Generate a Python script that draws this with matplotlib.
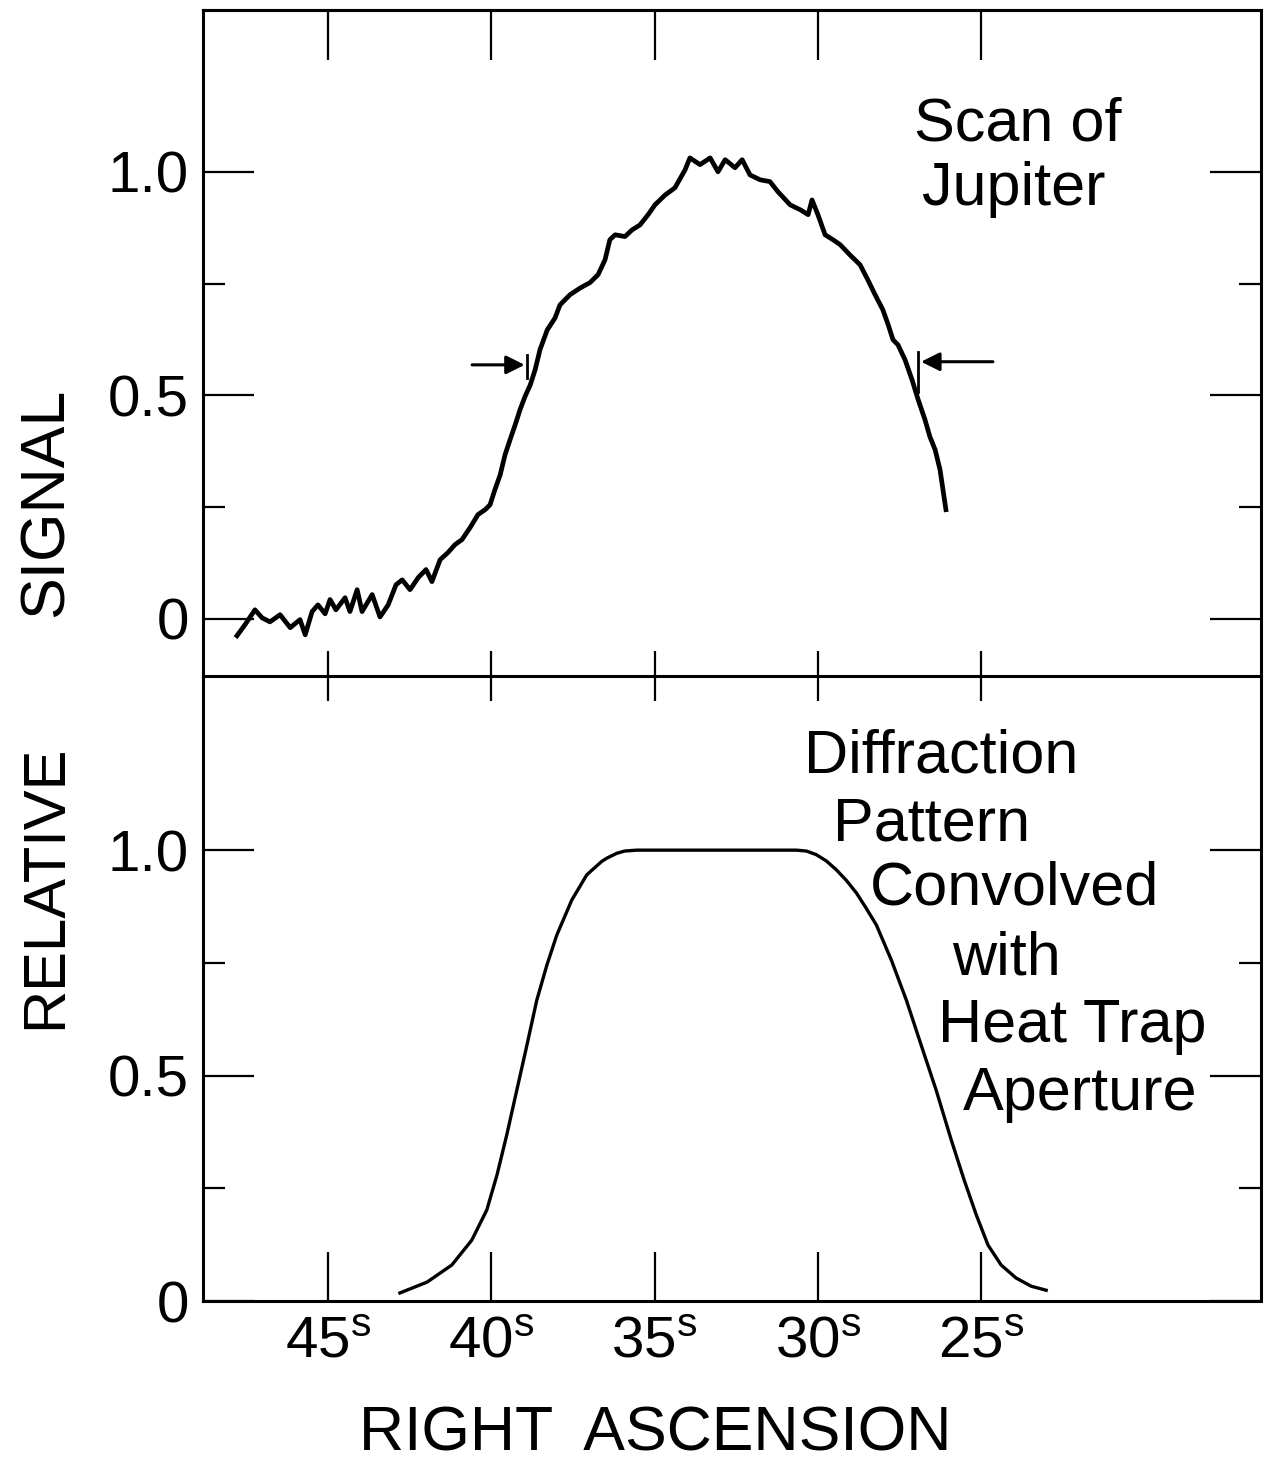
import matplotlib
matplotlib.use("Agg")
import matplotlib.pyplot as plt
from matplotlib.ticker import FixedLocator

plt.rcParams['font.family'] = ['Liberation Sans', 'DejaVu Sans']
plt.rcParams['mathtext.fontset'] = 'custom'
plt.rcParams['mathtext.rm'] = 'Liberation Sans'

# ---------------- data ----------------
# Top panel: scan of Jupiter (right ascension in seconds, relative signal)
scan_ra = [47.79, 47.54, 47.24, 47.02, 46.78, 46.47, 46.16, 45.86, 45.70, 45.49,
           45.31, 45.09, 44.94, 44.76, 44.48, 44.33, 44.11, 43.96, 43.65, 43.41,
           43.16, 42.92, 42.73, 42.49, 42.24, 42.00, 41.82, 41.57, 41.33, 41.11,
           40.90, 40.65, 40.41, 40.19, 40.04, 39.89, 39.73, 39.58, 39.43, 39.27,
           39.12, 38.97, 38.81, 38.66, 38.51, 38.29, 38.05, 37.90, 37.59, 37.28,
           36.98, 36.73, 36.52, 36.37, 36.21, 35.91, 35.69, 35.45, 35.20, 34.99,
           34.68, 34.38, 34.07, 33.92, 33.61, 33.30, 33.06, 32.84, 32.54, 32.32,
           32.08, 31.77, 31.47, 31.22, 30.85, 30.54, 30.30, 30.18, 30.00, 29.78,
           29.54, 29.32, 29.02, 28.71, 28.47, 28.25, 28.01, 27.85, 27.70, 27.55,
           27.33, 27.12, 26.93, 26.72, 26.57, 26.41, 26.26, 26.08]
scan_sig = [-0.038, -0.013, 0.020, 0.002, -0.007, 0.009, -0.020, -0.002, -0.036, 0.016,
            0.031, 0.011, 0.043, 0.020, 0.047, 0.016, 0.065, 0.016, 0.054, 0.004,
            0.031, 0.076, 0.087, 0.065, 0.092, 0.110, 0.083, 0.132, 0.148, 0.166,
            0.177, 0.204, 0.233, 0.244, 0.255, 0.289, 0.322, 0.367, 0.400, 0.434,
            0.468, 0.497, 0.523, 0.557, 0.602, 0.646, 0.673, 0.702, 0.725, 0.740,
            0.752, 0.770, 0.803, 0.848, 0.859, 0.855, 0.870, 0.881, 0.904, 0.926,
            0.948, 0.964, 1.004, 1.031, 1.016, 1.031, 1.000, 1.027, 1.009, 1.027,
            0.993, 0.982, 0.978, 0.955, 0.926, 0.915, 0.904, 0.937, 0.904, 0.859,
            0.848, 0.837, 0.814, 0.792, 0.758, 0.725, 0.691, 0.658, 0.624, 0.613,
            0.579, 0.535, 0.490, 0.445, 0.407, 0.378, 0.333, 0.244]

# Half-power markers (arrows) on the scan
marker_left_ra = [40.59, 38.98]    # tail, head
marker_left_bar = 38.91
marker_left_sig = [0.539, 0.568, 0.590]
marker_right_ra = [24.64, 26.84]   # tail, head
marker_right_bar = 26.93
marker_right_sig = [0.508, 0.575, 0.597]

# Bottom panel: diffraction pattern convolved with heat-trap aperture
model_ra = [42.80, 41.97, 41.21, 40.60, 40.14, 39.83, 39.53, 39.22, 38.91, 38.61,
            38.30, 38.00, 37.54, 37.08, 36.93, 36.62, 36.47, 36.16, 35.92, 35.55,
            33.72, 31.88, 30.66, 30.35, 30.05, 29.74, 29.43, 29.13, 28.82, 28.52,
            28.21, 27.75, 27.29, 26.84, 26.38, 25.92, 25.52, 25.15, 24.79, 24.39,
            23.93, 23.47, 23.01]
model_sig = [0.018, 0.042, 0.080, 0.135, 0.202, 0.279, 0.368, 0.468, 0.568, 0.667,
             0.745, 0.811, 0.889, 0.945, 0.955, 0.975, 0.982, 0.993, 0.998, 1.000,
             1.000, 1.000, 1.000, 0.998, 0.990, 0.976, 0.956, 0.933, 0.905, 0.871,
             0.834, 0.756, 0.667, 0.568, 0.468, 0.358, 0.268, 0.191, 0.124, 0.080,
             0.051, 0.033, 0.024]

x_ticks = [45, 40, 35, 30, 25]
x_ticklabels = [r'$\mathregular{45^{s}}$', r'$\mathregular{40^{s}}$', r'$\mathregular{35^{s}}$',
                r'$\mathregular{30^{s}}$', r'$\mathregular{25^{s}}$']
y_major = [0, 0.5, 1.0]
y_major_labels = ['0', '0.5', '1.0']
y_minor = [0.25, 0.75]

top_text = ['Scan of', 'Jupiter']
bottom_text = ['Diffraction', 'Pattern', 'Convolved', 'with', 'Heat Trap', 'Aperture']

# ---------------- figure ----------------
fig = plt.figure(figsize=(12.8, 14.65), dpi=100)
L, W = 0.1586, 0.8266
ax1 = fig.add_axes([L, 0.5386, W, 0.4546])
ax2 = fig.add_axes([L, 0.1119, W, 0.4266])

xlim = (48.83, 16.43)
TW = 1.6
for ax in (ax1, ax2):
    ax.patch.set_visible(False)
    ax.set_xlim(*xlim)
    for s in ax.spines.values():
        s.set_linewidth(2.2)
    ax.yaxis.set_major_locator(FixedLocator(y_major))
    ax.yaxis.set_minor_locator(FixedLocator(y_minor))
    ax.set_yticklabels(y_major_labels)
    ax.tick_params(axis='y', which='major', direction='in', length=37, width=TW,
                   left=True, right=True, labelsize=42, pad=10)
    ax.tick_params(axis='y', which='minor', direction='in', length=16, width=TW,
                   left=True, right=True)
    ax.xaxis.set_major_locator(FixedLocator(x_ticks))

ax1.set_ylim(-0.128, 1.362)
ax2.set_ylim(0, 1.386)

# top panel: short inward ticks at the shared boundary
ax1.tick_params(axis='x', which='major', top=False, bottom=True, labelbottom=False,
                direction='in', length=18, width=TW)
# long inward ticks along the top edge
sec_top = ax1.secondary_xaxis('top')
sec_top.set_xticks(x_ticks)
sec_top.tick_params(axis='x', direction='in', length=36, width=TW, labeltop=False)
sec_top.spines['top'].set_linewidth(2.2)

# bottom panel: short inward ticks below the shared boundary, long ones at bottom
ax2.spines['top'].set_visible(False)
ax2.set_xticks(x_ticks)
ax2.set_xticklabels(x_ticklabels)
ax2.tick_params(axis='x', which='major', direction='in', length=35, width=TW,
                top=False, bottom=True, labelsize=42, pad=10)
sec_mid = ax2.secondary_xaxis('top')
sec_mid.set_xticks(x_ticks)
sec_mid.tick_params(axis='x', direction='in', length=18, width=TW, labeltop=False)
sec_mid.spines['top'].set_visible(False)

# curves
ax1.plot(scan_ra, scan_sig, color='black', lw=3.4, solid_joinstyle='round')
ax2.plot(model_ra, model_sig, color='black', lw=2.4, solid_joinstyle='round')

# half-power markers
arrow_kw = dict(arrowstyle='-|>', mutation_scale=28, lw=2.2, color='black',
                shrinkA=0, shrinkB=0)
ax1.annotate('', xy=(marker_left_ra[1], marker_left_sig[1]),
             xytext=(marker_left_ra[0], marker_left_sig[1]), arrowprops=arrow_kw)
ax1.plot([marker_left_bar, marker_left_bar], [marker_left_sig[0], marker_left_sig[2]],
         color='black', lw=2.0)
ax1.annotate('', xy=(marker_right_ra[1], marker_right_sig[1]),
             xytext=(marker_right_ra[0], marker_right_sig[1]), arrowprops=arrow_kw)
ax1.plot([marker_right_bar, marker_right_bar], [marker_right_sig[0], marker_right_sig[2]],
         color='black', lw=2.0)

# annotation texts
ann_font = dict(fontsize=44, color='black')
fig.text(0.795, 0.9044, top_text[0], ha='center', va='baseline', **ann_font)
fig.text(0.792, 0.8601, top_text[1], ha='center', va='baseline', **ann_font)
bx = [0.735, 0.728, 0.793, 0.786, 0.838, 0.844]
by = [0.4730, 0.4266, 0.3823, 0.3345, 0.2887, 0.2423]
for s, xx, yy in zip(bottom_text, bx, by):
    fig.text(xx, yy, s, ha='center', va='baseline', **ann_font)

# axis titles
fig.text(0.512, 0.010, 'RIGHT  ASCENSION', ha='center', va='baseline', fontsize=45)
fig.text(0.036, 0.3945, 'RELATIVE', ha='center', va='center', rotation=90, fontsize=43)
fig.text(0.036, 0.657, 'SIGNAL', ha='center', va='center', rotation=90, fontsize=45)

fig.savefig('out.png', dpi=100, facecolor='white')
